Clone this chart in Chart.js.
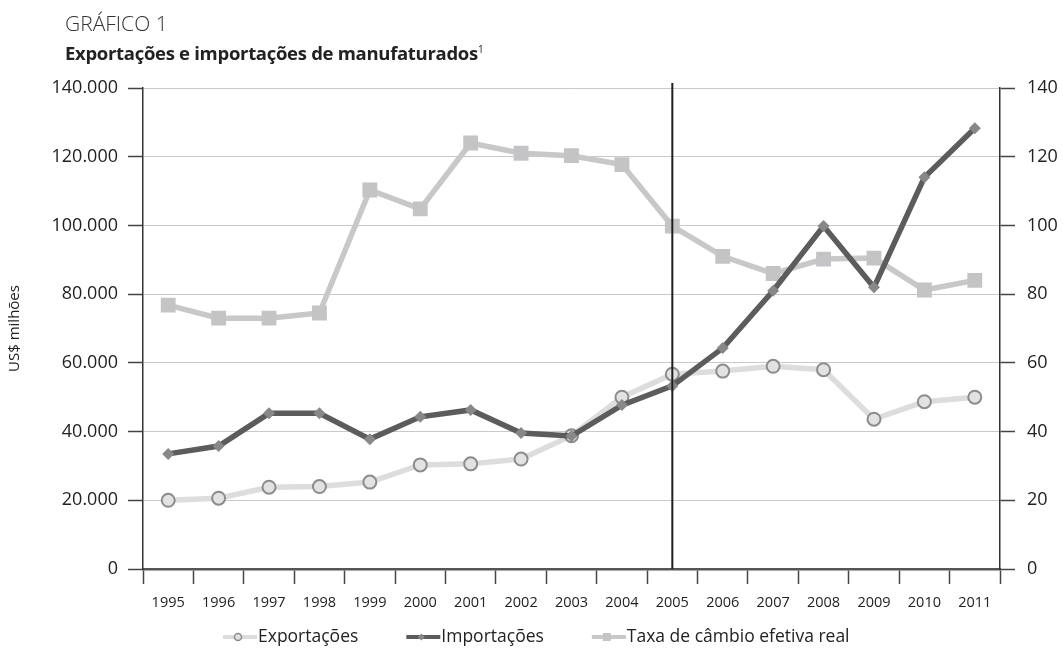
<!DOCTYPE html>
<html>
<head>
<meta charset="utf-8">
<script src="https://cdn.jsdelivr.net/npm/chart.js@4"></script>
<style>
  body { margin: 0; background: #fff; font-family: "Open Sans", sans-serif; }
  #wrap { position: relative; width: 1063px; height: 654px; }
  #t1 { position: absolute; left: 65px; top: 13px; font-size: 21px; line-height: 1; font-weight: 300; color: #333; }
  #t2 { position: absolute; left: 65px; top: 44px; font-size: 18.5px; line-height: 1; font-weight: 700; color: #222; letter-spacing: -0.3px; }
  #t2 sup { font-size: 10px; font-weight: 400; }
  canvas { position: absolute; left: 0; top: 0; }
</style>
</head>
<body>
<div id="wrap">
  <canvas id="myChart" width="1063" height="654"></canvas>
  <div id="t1">GRÁFICO 1</div>
  <div id="t2">Exportações e importações de manufaturados<sup>1</sup></div>
</div>
<script>
// anos do eixo x
var anos = ['1995','1996','1997','1998','1999','2000','2001','2002','2003','2004','2005','2006','2007','2008','2009','2010','2011'];
// US$ milhões (eixo esquerdo)
var exportacoes = [20000, 20600, 23800, 24000, 25300, 30300, 30600, 32000, 38800, 50000, 56700, 57600, 59000, 58000, 43600, 48700, 50000];
var importacoes = [33500, 35800, 45300, 45300, 37800, 44300, 46300, 39600, 38700, 47700, 53300, 64300, 81000, 99800, 82000, 114000, 128300];
// índice (eixo direito)
var cambio = [76.8, 73, 73, 74.5, 110.3, 104.8, 124, 121, 120.3, 117.7, 99.8, 91, 86, 90.2, 90.5, 81.2, 84];
var marcoAno = '2005';

function fmt(v) {
  return String(v).replace(/\B(?=(\d{3})+(?!\d))/g, '.');
}

// linha vertical em 2005
var vLine = {
  id: 'vLine',
  afterDatasetsDraw: function(chart) {
    var x = chart.scales.x.getPixelForValue(anos.indexOf(marcoAno));
    var ctx = chart.ctx;
    ctx.save();
    ctx.strokeStyle = '#1e1e1e';
    ctx.lineWidth = 2;
    ctx.beginPath();
    ctx.moveTo(x, chart.chartArea.top - 5);
    ctx.lineTo(x, chart.chartArea.bottom);
    ctx.stroke();
    ctx.restore();
  }
};

// legenda desenhada a mão (linha + marcador)
var legenda = {
  id: 'legenda',
  afterDraw: function(chart) {
    var ctx = chart.ctx;
    var y = 637;
    var x = 223;
    ctx.save();
    ctx.font = '17.5px "Open Sans"';
    ctx.textBaseline = 'middle';
    chart.data.datasets.forEach(function(ds) {
      ctx.strokeStyle = ds.borderColor;
      ctx.lineWidth = 4;
      ctx.beginPath();
      ctx.moveTo(x, y);
      ctx.lineTo(x + 34, y);
      ctx.stroke();
      var cx = x + 15;
      ctx.fillStyle = ds.pointBackgroundColor;
      ctx.strokeStyle = ds.pointBorderColor;
      ctx.lineWidth = ds.legendBorder;
      ctx.beginPath();
      if (ds.pointStyle == 'circle') {
        ctx.arc(cx, y, 3.5, 0, Math.PI * 2);
      } else if (ds.pointStyle == 'rectRot') {
        ctx.moveTo(cx, y - 3.5); ctx.lineTo(cx + 3.5, y); ctx.lineTo(cx, y + 3.5); ctx.lineTo(cx - 3.5, y); ctx.closePath();
      } else {
        ctx.rect(cx - 4, y - 4, 8, 8);
      }
      ctx.fill();
      if (ds.legendBorder > 0) ctx.stroke();
      ctx.fillStyle = '#222';
      ctx.fillText(ds.label, x + 35, y);
      x += 35 + ctx.measureText(ds.label).width + 48;
    });
    ctx.restore();
  }
};

var config = {
  type: 'line',
  data: {
    labels: anos,
    datasets: [
      {
        label: 'Exportações',
        data: exportacoes,
        yAxisID: 'y',
        borderColor: '#dddddd',
        borderWidth: 5.5,
        pointStyle: 'circle',
        pointRadius: 6.5,
        pointBorderWidth: 2,
        pointBackgroundColor: '#e2e2e2',
        pointBorderColor: '#8c8c8c',
        legendBorder: 1.5,
        order: 1
      },
      {
        label: 'Importações',
        data: importacoes,
        yAxisID: 'y',
        borderColor: '#5c5c5c',
        borderWidth: 5.5,
        pointStyle: 'rectRot',
        pointRadius: 6,
        pointBorderWidth: 0,
        pointBackgroundColor: '#888888',
        pointBorderColor: '#888888',
        legendBorder: 0,
        order: 0
      },
      {
        label: 'Taxa de câmbio efetiva real',
        data: cambio,
        yAxisID: 'y2',
        borderColor: '#c8c8c8',
        borderWidth: 5.5,
        pointStyle: 'rect',
        pointRadius: 10.5,
        pointBorderWidth: 0,
        pointBackgroundColor: '#c4c4c6',
        pointBorderColor: '#c4c4c6',
        legendBorder: 0,
        order: 2
      }
    ]
  },
  options: {
    responsive: false,
    animation: false,
    layout: { padding: { top: 88, bottom: 0, left: 0, right: 0 } },
    plugins: {
      legend: { display: false },
      tooltip: { enabled: false }
    },
    scales: {
      x: {
        offset: true,
        grid: { offset: true, drawOnChartArea: false, tickLength: 15, tickColor: '#444', tickWidth: 1.5 },
        border: { color: '#555', width: 2.5 },
        ticks: { font: { family: 'Open Sans', size: 14.5 }, color: '#222', padding: 10, maxRotation: 0, autoSkip: false },
        afterFit: function(s) { s.height = 85; }
      },
      y: {
        position: 'left',
        min: 0,
        max: 140000,
        ticks: { stepSize: 20000, callback: function(v) { return fmt(v); }, font: { family: 'Open Sans', size: 18 }, color: '#222', padding: 10 },
        grid: { color: '#c9c9c9', lineWidth: 1, tickColor: '#444', tickLength: 15, tickWidth: 1.5 },
        border: { color: '#333', width: 1.5 },
        title: { display: true, text: 'US$ milhões', font: { family: 'Open Sans', size: 15 }, color: '#222', padding: { top: 6, bottom: 0 } },
        afterFit: function(s) { s.width = 143; }
      },
      y2: {
        position: 'right',
        min: 0,
        max: 140,
        ticks: { stepSize: 20, font: { family: 'Open Sans', size: 18 }, color: '#222', padding: 12 },
        grid: { drawOnChartArea: false, tickColor: '#444', tickLength: 15, tickWidth: 1.5 },
        border: { color: '#333', width: 1.5 },
        afterFit: function(s) { s.width = 63; }
      }
    }
  },
  plugins: [vLine, legenda]
};

var myChart = new Chart(document.getElementById('myChart'), config);
</script>
</body>
</html>
